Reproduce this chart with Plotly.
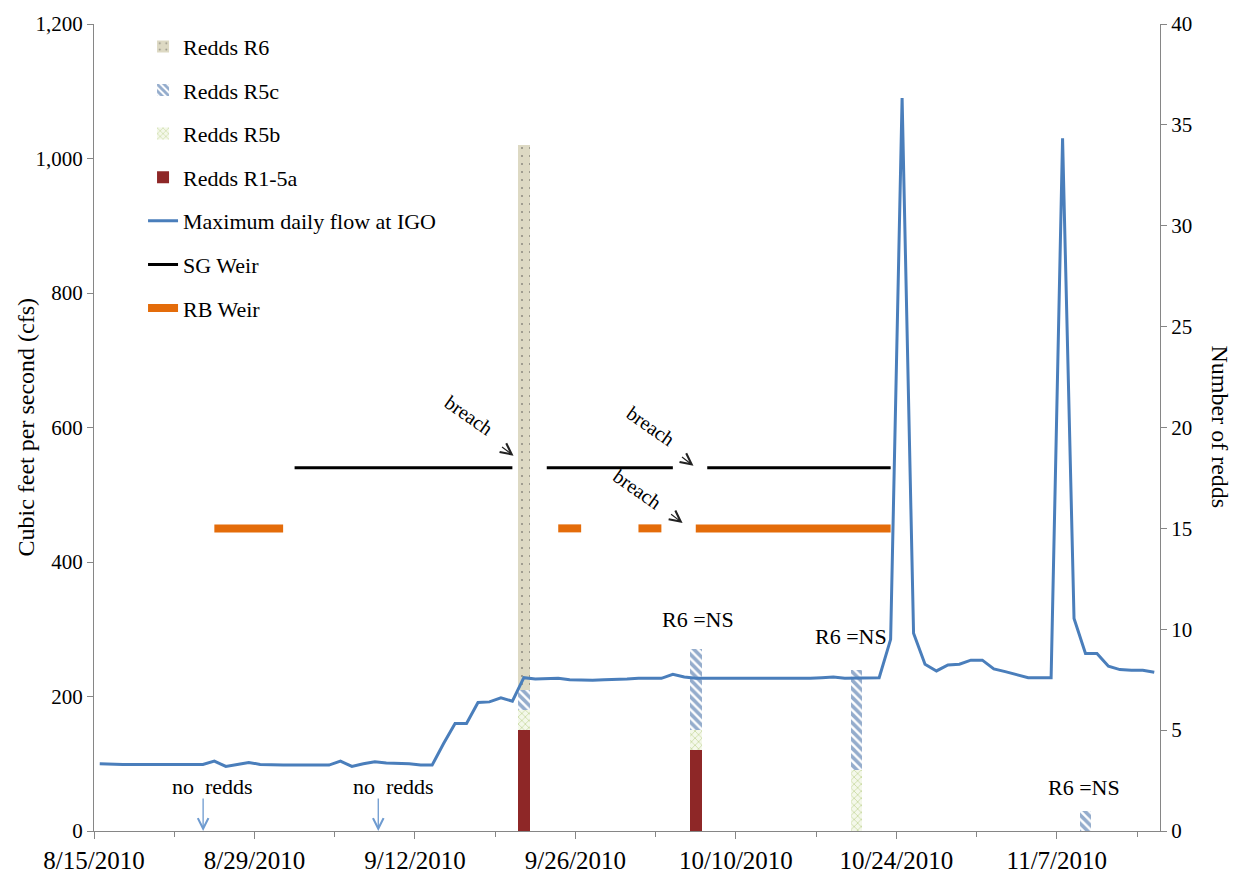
import pandas as pd
import plotly.graph_objects as go

# ---- data -------------------------------------------------------------
START = "2010-08-15"
END = "2010-11-15"

# maximum daily flow at IGO (cfs), one value per day from START to END
flow_cfs = [100, 99, 99, 99, 99, 99, 99, 99, 99, 99,
            104, 96, 99, 102, 99, 98, 98, 98, 98, 98,
            98, 104, 96, 100, 103, 101, 101, 100, 98, 98,
            130, 160, 160, 191, 192, 198, 193, 228, 226, 226,
            227, 225, 224, 224, 225, 225, 226, 227, 227, 227,
            233, 229, 227, 227, 226, 226, 226, 226, 226, 226,
            226, 226, 227, 228, 229, 227, 227, 227, 228, 285,
            1090, 294, 248, 238, 247, 248, 254, 254, 241, 237,
            233, 228, 228, 228, 1030, 316, 264, 264, 245, 240,
            239, 239, 236]

# redd survey dates and counts by reach
survey_dates = ["2010-09-21", "2010-10-06", "2010-10-20", "2010-11-09"]
redds_r1_5a = [5, 4, 0, 0]
redds_r5b = [1, 1, 3, 0]
redds_r5c = [1, 4, 5, 1]
redds_r6 = [27, 0, 0, 0]

# weir installation periods (plotted at a fixed reference level)
sg_weir_level = 540
sg_weir_spans = [("2010-09-01", "2010-09-20"),
                 ("2010-09-23", "2010-10-04"),
                 ("2010-10-07", "2010-10-23")]
rb_weir_level = 450
rb_weir_spans = [("2010-08-25", "2010-08-31"),
                 ("2010-09-24", "2010-09-26"),
                 ("2010-10-01", "2010-10-03"),
                 ("2010-10-06", "2010-10-23")]

tick_dates = ["2010-08-15", "2010-08-29", "2010-09-12", "2010-09-26",
              "2010-10-10", "2010-10-24", "2010-11-07"]
tick_labels = ["8/15/2010", "8/29/2010", "9/12/2010", "9/26/2010",
               "10/10/2010", "10/24/2010", "11/7/2010"]

# ---- helpers -----------------------------------------------------------
DAY = pd.Timedelta(days=1)
HALF_DAY = pd.Timedelta(hours=12)
t0 = pd.Timestamp(START)

dates = pd.date_range(START, END, freq="D")
centers = dates + HALF_DAY          # each day is drawn in the middle of its slot


def at_day(offset):
    """Position measured in days from the start of the axis."""
    return t0 + offset * DAY


def weir_series(spans, level):
    vals = []
    for d in dates:
        on = any(pd.Timestamp(a) <= d <= pd.Timestamp(b) for a, b in spans)
        vals.append(level if on else None)
    return vals


AX = "#868686"
FONT = "Liberation Serif"

fig = go.Figure()

# ---- stacked redd bars (right axis) -----------------------------------
bar_x = pd.to_datetime(survey_dates) + HALF_DAY
bar_w = [1.0 * 86400000] * len(survey_dates)

bar_specs = [
    ("Redds R1-5a", redds_r1_5a, dict(color="#8E2727"), 4),
    ("Redds R5b", redds_r5b,
     dict(color="#F4F8EA",
          pattern=dict(shape="x", fgcolor="#A2BF5E", bgcolor="#F4F8EA",
                       size=5, solidity=0.3)), 3),
    ("Redds R5c", redds_r5c,
     dict(color="white",
          pattern=dict(shape="\\", fgcolor="#2A5A9A", bgcolor="white",
                       size=6, solidity=0.6)), 2),
    ("Redds R6", redds_r6,
     dict(color="#DDD9C3",
          pattern=dict(shape=".", fgcolor="#3A3A3A", bgcolor="#DDD9C3",
                       size=8, solidity=0.05)), 1),
]
for name, vals, marker, rank in bar_specs:
    fig.add_trace(go.Bar(
        x=bar_x, y=vals, width=bar_w, name=name, marker=marker,
        marker_line_width=0, yaxis="y", legendrank=rank, legendgroup=name,
    ))

# ---- flow and weir lines (left axis) ----------------------------------
fig.add_trace(go.Scatter(
    x=centers, y=flow_cfs, mode="lines", name="Maximum daily flow at IGO",
    line=dict(color="#4A7EBB", width=3), yaxis="y2", legendrank=5,
    legendgroup="flow",
))
fig.add_trace(go.Scatter(
    x=centers, y=weir_series(sg_weir_spans, sg_weir_level), mode="lines",
    name="SG Weir", line=dict(color="black", width=3), yaxis="y2",
    legendrank=6, legendgroup="sg",
))
fig.add_trace(go.Scatter(
    x=centers, y=weir_series(rb_weir_spans, rb_weir_level), mode="lines",
    name="RB Weir", line=dict(color="#E46C0A", width=8),
    yaxis="y2", legendrank=7, legendgroup="rb",
))

# ---- annotations --------------------------------------------------------
ann = []
txt_font = dict(family=FONT, size=22, color="black")

# "breach" notes with short arrows
breach_notes = [  # (text day, text cfs, arrow day, arrow cfs)
    (32.66, 618, 36.6, 558),
    (48.56, 602, 52.3, 543),
    (47.40, 509, 51.35, 458),
]
for tx, ty, hx, hy in breach_notes:
    ann.append(dict(x=at_day(tx), y=ty, xref="x", yref="y2", text="breach",
                    showarrow=False, textangle=35,
                    font=dict(family=FONT, size=20, color="black")))
    ann.append(dict(x=at_day(hx), y=hy, xref="x", yref="y2", text="",
                    showarrow=True, arrowhead=5, arrowsize=1.8,
                    arrowwidth=1.2, arrowcolor="#222222", ax=-13, ay=-10))

# "no redds" notes with arrows down to the axis
no_redd_notes = [(10.3, 9.52), (26.1, 24.8)]
for tx, hx in no_redd_notes:
    ann.append(dict(x=at_day(tx), y=65.5, xref="x", yref="y2",
                    text="no\u00a0 redds", showarrow=False, font=txt_font))
    ann.append(dict(x=at_day(hx), y=0, xref="x", yref="y2", text="",
                    showarrow=True, arrowhead=5, arrowsize=1.6,
                    arrowwidth=1.3, arrowcolor="#6E9BD0", ax=0, ay=-34))

# reach R6 not surveyed
ns_notes = [(52.66, 10.5), (66.0, 9.65), (86.4, 2.18)]
for tx, ty in ns_notes:
    ann.append(dict(x=at_day(tx), y=ty, xref="x", yref="y", text="R6 =NS",
                    showarrow=False, font=txt_font))

# axis titles
ann.append(dict(x=-0.0647, y=0.5, xref="paper", yref="paper",
                xanchor="center", yanchor="middle",
                text="Cubic feet per second (cfs)", showarrow=False,
                textangle=-90, font=dict(family=FONT, size=24, color="black")))
ann.append(dict(x=1.0572, y=0.5, xref="paper", yref="paper",
                xanchor="center", yanchor="middle",
                text="Number of redds", showarrow=False, textangle=90,
                font=dict(family=FONT, size=24, color="black")))

# ---- layout ---------------------------------------------------------------
fig.update_layout(
    width=1241, height=886,
    margin=dict(l=94, r=81, t=17, b=44),
    paper_bgcolor="white", plot_bgcolor="white",
    barmode="stack", bargap=0,
    font=dict(family=FONT, color="black"),
    showlegend=True,
    legend=dict(x=0.046, y=0.998, xanchor="left", yanchor="top",
                bgcolor="rgba(0,0,0,0)", font=dict(family=FONT, size=22),
                tracegroupgap=12, itemwidth=30),
    xaxis=dict(
        type="date",
        range=[t0, pd.Timestamp(END) + DAY],
        tickmode="array",
        tickvals=pd.to_datetime(tick_dates),
        ticktext=tick_labels,
        ticks="outside", ticklen=7, tickcolor=AX, tickwidth=1,
        showline=True, linecolor=AX, linewidth=1,
        showgrid=False, zeroline=False,
        tickfont=dict(family=FONT, size=25, color="black"),
        minor=dict(ticks="outside", ticklen=5, tickcolor=AX,
                   tick0=START, dtick=7 * 86400000, showgrid=False),
    ),
    yaxis=dict(
        side="right", range=[0, 40], dtick=5,
        ticks="outside", ticklen=6, tickcolor=AX,
        showline=True, linecolor=AX, linewidth=1,
        showgrid=False, zeroline=False,
        tickfont=dict(family=FONT, size=21, color="black"),
    ),
    yaxis2=dict(
        overlaying="y", side="left", range=[0, 1200], dtick=200,
        tickformat=",d",
        ticks="outside", ticklen=6, tickcolor=AX,
        showline=True, linecolor=AX, linewidth=1,
        showgrid=False, zeroline=False,
        tickfont=dict(family=FONT, size=21, color="black"),
    ),
    annotations=ann,
)

fig.write_html("out.html")
